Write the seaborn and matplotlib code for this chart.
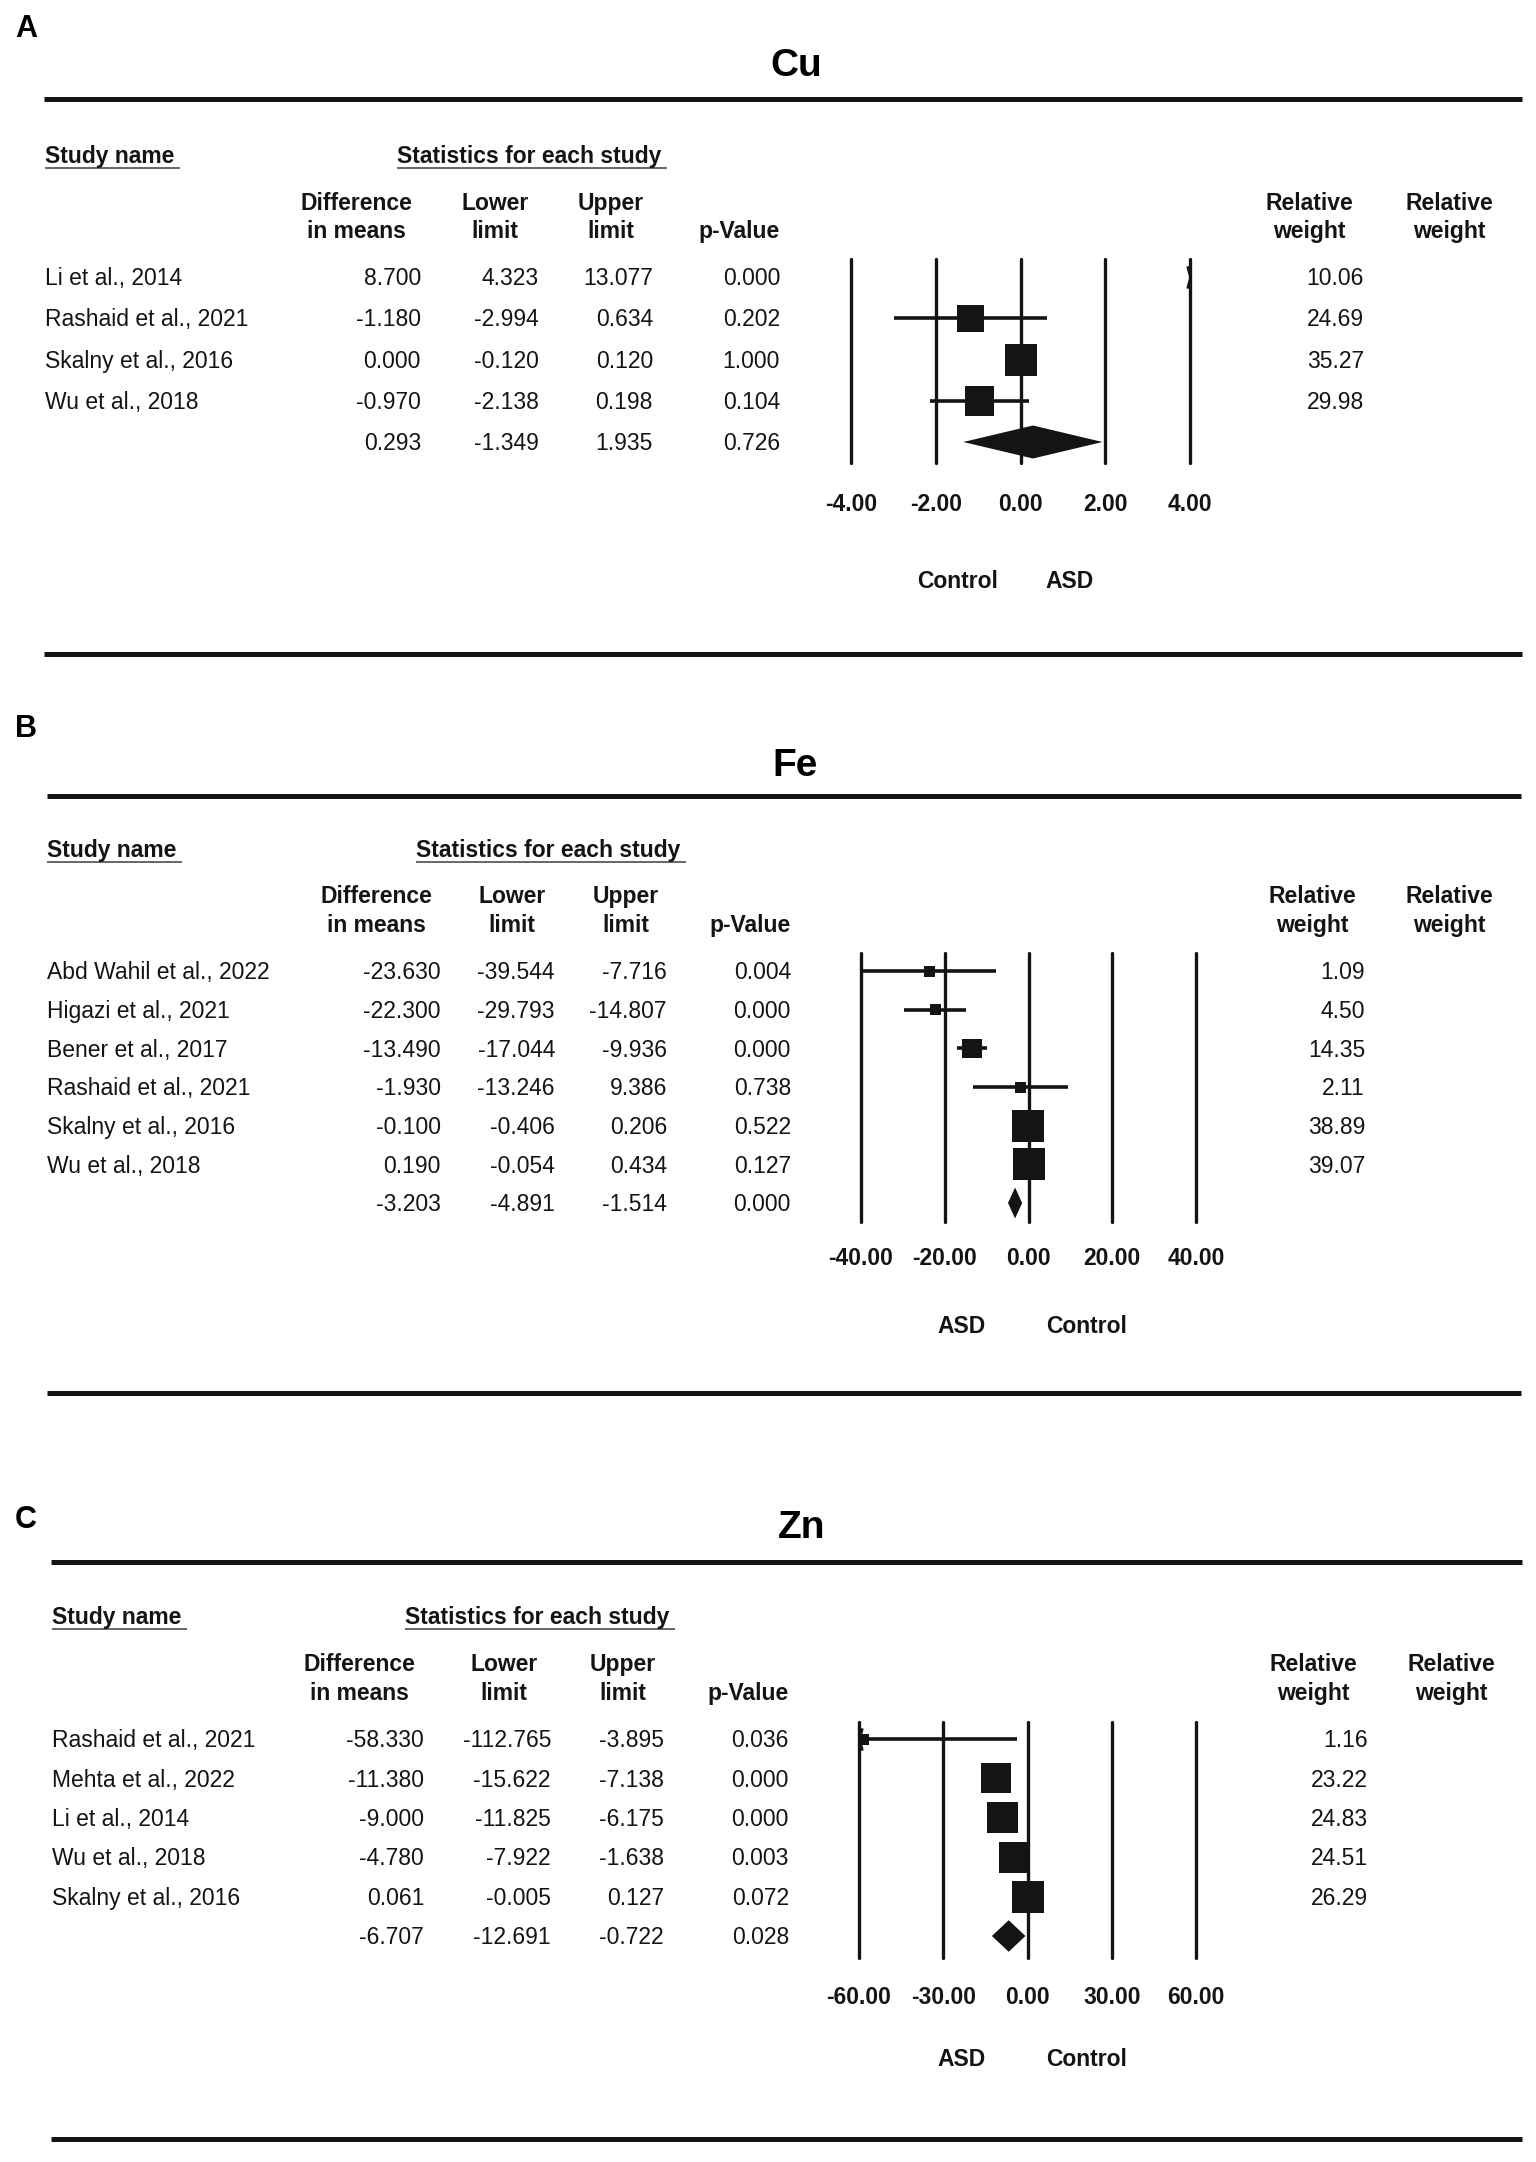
import numpy as np
import pandas as pd
import matplotlib
matplotlib.use("Agg")
import matplotlib.pyplot as plt
import matplotlib.transforms as mtransforms
from matplotlib.lines import Line2D
from matplotlib.path import Path
from matplotlib.markers import MarkerStyle
import seaborn as sns

W, H = 1536, 2162
INK = "#141414"

# ---------------- data ----------------
cu_studies = ["Li et al., 2014", "Rashaid et al., 2021", "Skalny et al., 2016", "Wu et al., 2018"]
cu_diff = [8.700, -1.180, 0.000, -0.970]
cu_lower = [4.323, -2.994, -0.120, -2.138]
cu_upper = [13.077, 0.634, 0.120, 0.198]
cu_p = [0.000, 0.202, 1.000, 0.104]
cu_weight = [10.06, 24.69, 35.27, 29.98]
cu_summary = [0.293, -1.349, 1.935, 0.726]
cu_ticks = [-4, -2, 0, 2, 4]
cu_favours = ["Control", "ASD"]

fe_studies = ["Abd Wahil et al., 2022", "Higazi et al., 2021", "Bener et al., 2017",
              "Rashaid et al., 2021", "Skalny et al., 2016", "Wu et al., 2018"]
fe_diff = [-23.630, -22.300, -13.490, -1.930, -0.100, 0.190]
fe_lower = [-39.544, -29.793, -17.044, -13.246, -0.406, -0.054]
fe_upper = [-7.716, -14.807, -9.936, 9.386, 0.206, 0.434]
fe_p = [0.004, 0.000, 0.000, 0.738, 0.522, 0.127]
fe_weight = [1.09, 4.50, 14.35, 2.11, 38.89, 39.07]
fe_summary = [-3.203, -4.891, -1.514, 0.000]
fe_ticks = [-40, -20, 0, 20, 40]
fe_favours = ["ASD", "Control"]

zn_studies = ["Rashaid et al., 2021", "Mehta et al., 2022", "Li et al., 2014",
              "Wu et al., 2018", "Skalny et al., 2016"]
zn_diff = [-58.330, -11.380, -9.000, -4.780, 0.061]
zn_lower = [-112.765, -15.622, -11.825, -7.922, -0.005]
zn_upper = [-3.895, -7.138, -6.175, -1.638, 0.127]
zn_p = [0.036, 0.000, 0.000, 0.003, 0.072]
zn_weight = [1.16, 23.22, 24.83, 24.51, 26.29]
zn_summary = [-6.707, -12.691, -0.722, 0.028]
zn_ticks = [-60, -30, 0, 30, 60]
zn_favours = ["ASD", "Control"]

# ---------------- layout (pixels, top-left origin) ----------------
layouts = [
    dict(letter="A", title="Cu", letter_y=26, title_x=796, title_y=62,
         rule_x=(44, 1522), top_rule=99, bottom_rule=654,
         name_x=45, stats_x=397, sub_y=155, head_y=(202, 230),
         first_row=277, last_row=442,
         col_right=(421, 539, 653, 780, 1364), head_c=(356, 495, 611, 1309, 1449),
         plot_x=(851, 1190), plot_y=(259, 463), tick_y=503,
         fav_x=(958, 1070), fav_y=580),
    dict(letter="B", title="Fe", letter_y=726, title_x=795, title_y=762,
         rule_x=(47, 1521), top_rule=796, bottom_rule=1393,
         name_x=47, stats_x=416, sub_y=849, head_y=(895, 924),
         first_row=971, last_row=1203,
         col_right=(441, 555, 667, 791, 1365), head_c=(376, 512, 626, 1312, 1449),
         plot_x=(861, 1196), plot_y=(953, 1222), tick_y=1257,
         fav_x=(962, 1087), fav_y=1325),
    dict(letter="C", title="Zn", letter_y=1517, title_x=802, title_y=1524,
         rule_x=(51, 1522), top_rule=1562, bottom_rule=2139,
         name_x=52, stats_x=405, sub_y=1616, head_y=(1663, 1692),
         first_row=1739, last_row=1936,
         col_right=(424, 551, 664, 789, 1368), head_c=(359, 504, 623, 1313, 1451),
         plot_x=(859, 1196), plot_y=(1722, 1958), tick_y=1996,
         fav_x=(962, 1087), fav_y=2058),
]

sns.set_theme(style="white")
plt.rcParams["font.family"] = ["Liberation Sans", "DejaVu Sans"]

fig = plt.figure(figsize=(W / 100, H / 100), dpi=100)
px = mtransforms.Affine2D().scale(1 / W, -1 / H).translate(0, 1) + fig.transFigure

FS = 16.5


def put(x, y, s, size=FS, weight="normal", ha="left", color=INK):
    # y is the visual centre of capital letters
    cap = 0.716 * size / 0.72
    return fig.text(x, y + cap / 2, s, transform=px, fontsize=size, fontweight=weight,
                    ha=ha, va="baseline", color=color)


def rule(x0, x1, y, lw=3.6, color=INK):
    fig.add_artist(Line2D([x0, x1], [y, y], transform=px, lw=lw, color=color,
                          solid_capstyle="butt"))


right_tick = MarkerStyle(Path([(-0.27, 1), (0, 0), (-0.27, -1)],
                              [Path.MOVETO, Path.LINETO, Path.LINETO]))
left_tick = MarkerStyle(Path([(0.27, 1), (0, 0), (0.27, -1)],
                             [Path.MOVETO, Path.LINETO, Path.LINETO]))


def panel(lay, studies, diff, lower, upper, pvals, weight, summary, ticks, favours):
    renderer = fig.canvas.get_renderer()
    n = len(studies)
    put(15, lay["letter_y"], lay["letter"], size=22, weight="bold", color="black")
    put(lay["title_x"], lay["title_y"], lay["title"], size=28, weight="bold", ha="center",
        color="black")
    rule(*lay["rule_x"], lay["top_rule"])
    rule(*lay["rule_x"], lay["bottom_rule"])

    # sub headers with underline
    for x, s in [(lay["name_x"], "Study name"), (lay["stats_x"], "Statistics for each study")]:
        t = put(x, lay["sub_y"], s, weight="bold")
        bb = t.get_window_extent(renderer)
        rule(x, x + bb.width + 6, lay["sub_y"] + 13, lw=1.4, color="#666666")

    h1, h2 = lay["head_y"]
    c = lay["head_c"]
    put(c[0], h1, "Difference", weight="bold", ha="center")
    put(c[0], h2, "in means", weight="bold", ha="center")
    put(c[1], h1, "Lower", weight="bold", ha="center")
    put(c[1], h2, "limit", weight="bold", ha="center")
    put(c[2], h1, "Upper", weight="bold", ha="center")
    put(c[2], h2, "limit", weight="bold", ha="center")
    put(lay["col_right"][3], h2, "p-Value", weight="bold", ha="right")
    for cx in (c[3], c[4]):
        put(cx, h1, "Relative", weight="bold", ha="center")
        put(cx, h2, "weight", weight="bold", ha="center")

    # table rows
    rows_y = np.linspace(lay["first_row"], lay["last_row"], n + 1)
    cr = lay["col_right"]
    for i in range(n):
        y = rows_y[i]
        put(lay["name_x"], y, studies[i])
        for j, v in enumerate([diff[i], lower[i], upper[i], pvals[i]]):
            put(cr[j], y, f"{v:.3f}", ha="right")
        put(cr[4], y, f"{weight[i]:.2f}", ha="right")
    for j, v in enumerate(summary):
        put(cr[j], rows_y[n], f"{v:.3f}", ha="right")

    # forest axes
    x0, x1 = lay["plot_x"]
    ytop, ybot = lay["plot_y"]
    ax = fig.add_axes([x0 / W, 1 - ybot / H, (x1 - x0) / W, (ybot - ytop) / H])
    spacing = (lay["last_row"] - lay["first_row"]) / n
    ax.set_ylim(n + (ybot - lay["last_row"]) / spacing, -(lay["first_row"] - ytop) / spacing)
    xmin, xmax = ticks[0], ticks[-1]
    ax.set_xlim(xmin, xmax)
    ax.axis("off")
    for t in ticks:
        ax.axvline(t, color=INK, lw=2.4, clip_on=False)

    df = pd.DataFrame({"row": np.arange(n), "est": diff, "lo": lower, "hi": upper, "w": weight})
    for _, r in df.iterrows():
        a, b = max(r.lo, xmin), min(r.hi, xmax)
        if a < b:
            ax.hlines(r.row, a, b, color=INK, lw=2.6, clip_on=False)
        if r.lo < xmin:
            ax.plot([xmin], [r.row], marker=left_tick, ms=16, mfc="none", mec=INK, mew=1.8,
                    clip_on=False)
        if r.hi > xmax:
            ax.plot([xmax], [r.row], marker=right_tick, ms=16, mfc="none", mec=INK, mew=1.8,
                    clip_on=False)

    inside = df[(df.est >= xmin) & (df.est <= xmax)]
    side_px = np.maximum(11, 32 * np.sqrt(inside.w / max(weight)))
    sizes = (side_px * 0.72) ** 2
    sns.scatterplot(data=inside, x="est", y="row", s=sizes.values, marker="s", color=INK,
                    linewidth=0, legend=False, ax=ax, clip_on=False)
    ax.set_xlim(xmin, xmax)
    ax.axis("off")

    est, lo, hi = summary[0], summary[1], summary[2]
    hh = 0.4
    ax.fill([lo, est, hi, est], [n, n - hh, n, n + hh], color=INK, lw=0, clip_on=False)

    # tick labels and favours
    tick_tr = mtransforms.blended_transform_factory(ax.transData, px)
    cap = 0.716 * FS / 0.72
    for t in ticks:
        ax.text(t, lay["tick_y"] + cap / 2, f"{t:.2f}", transform=tick_tr, ha="center",
                va="baseline", fontsize=FS, fontweight="bold", color=INK)
    put(lay["fav_x"][0], lay["fav_y"], favours[0], weight="bold", ha="center")
    put(lay["fav_x"][1], lay["fav_y"], favours[1], weight="bold", ha="center")


panel(layouts[0], cu_studies, cu_diff, cu_lower, cu_upper, cu_p, cu_weight, cu_summary,
      cu_ticks, cu_favours)
panel(layouts[1], fe_studies, fe_diff, fe_lower, fe_upper, fe_p, fe_weight, fe_summary,
      fe_ticks, fe_favours)
panel(layouts[2], zn_studies, zn_diff, zn_lower, zn_upper, zn_p, zn_weight, zn_summary,
      zn_ticks, zn_favours)

fig.savefig("out.png", dpi=100, facecolor="white")
